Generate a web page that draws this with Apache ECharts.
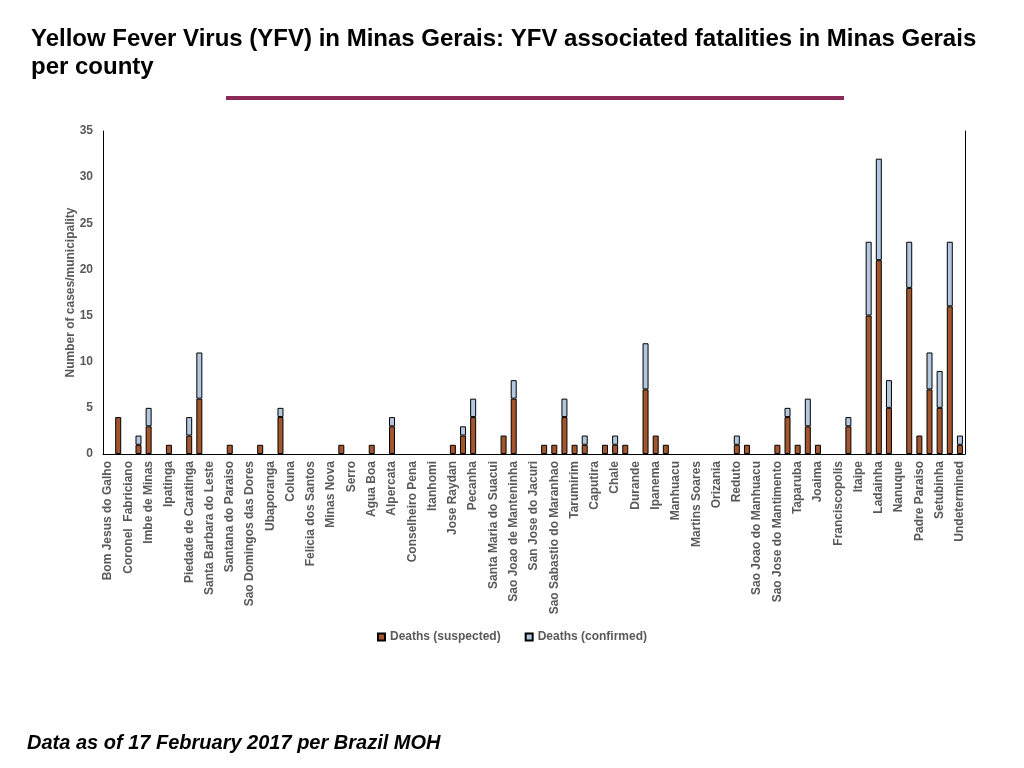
<!DOCTYPE html>
<html>
<head>
<meta charset="utf-8">
<title>YFV fatalities in Minas Gerais</title>
<script src="https://cdn.jsdelivr.net/npm/echarts@6/dist/echarts.min.js"></script>
<style>
  html, body { margin: 0; padding: 0; background: #fff; }
  #chart { width: 1024px; height: 768px; }
</style>
</head>
<body>
<div id="chart"></div>
<script>
// named municipalities (every second category carries a label in the source chart)
var labeledNames = ['Bom Jesus do Galho', 'Coronel  Fabriciano', 'Imbe de Minas', 'Ipatinga',
    'Piedade de Caratinga', 'Santa Barbara do Leste', 'Santana do Paraiso', 'Sao Domingos das Dores',
    'Ubaporanga', 'Coluna', 'Felicia dos Santos', 'Minas Nova', 'Serro', 'Agua Boa', 'Alpercata',
    'Conselheiro Pena', 'Itanhomi', 'Jose Raydan', 'Pecanha', 'Santa Maria do Suacui',
    'Sao Joao de Manteninha', 'San Jose do Jacuri', 'Sao Sabastio do Maranhao', 'Tarumirim',
    'Caputira', 'Chale', 'Durande', 'Ipanema', 'Manhuacu', 'Martins Soares', 'Orizania', 'Reduto',
    'Sao Joao do Manhuacu', 'Sao Jose do Mantimento', 'Taparuba', 'Joaima', 'Franciscopolis',
    'Itaipe', 'Ladainha', 'Nanuque', 'Padre Paraiso', 'Setubinha', 'Undetermined'];

var suspected = [
    0, 4, 0, 1, 3, 0, 1, 0, 2, 6,
    0, 0, 1, 0, 0, 1, 0, 4, 0, 0,
    0, 0, 0, 1, 0, 0, 1, 0, 3, 0,
    0, 0, 0, 0, 1, 2, 4, 0, 0, 2,
    6, 0, 0, 1, 1, 4, 1, 1, 0, 1,
    1, 1, 0, 7, 2, 1, 0, 0, 0, 0,
    0, 0, 1, 1, 0, 0, 1, 4, 1, 3,
    1, 0, 0, 3, 0, 15, 21, 5, 0, 18,
    2, 7, 5, 16, 1
];

var confirmed = [
    0, 0, 0, 1, 2, 0, 0, 0, 2, 5,
    0, 0, 0, 0, 0, 0, 0, 1, 0, 0,
    0, 0, 0, 0, 0, 0, 0, 0, 1, 0,
    0, 0, 0, 0, 0, 1, 2, 0, 0, 0,
    2, 0, 0, 0, 0, 2, 0, 1, 0, 0,
    1, 0, 0, 5, 0, 0, 0, 0, 0, 0,
    0, 0, 1, 0, 0, 0, 0, 1, 0, 3,
    0, 0, 0, 1, 0, 8, 11, 3, 0, 5,
    0, 4, 4, 7, 1
];

// interleave: labelled category, then an unlabelled one
var categories = [];
for (var i = 0; i < suspected.length; i++) {
    categories.push(i % 2 === 0 ? labeledNames[i / 2] : '');
}

function noZero(arr) {
    return arr.map(function (v) { return v === 0 ? null : v; });
}

var grey = '#595959';
var font = 'Liberation Sans, Arial, sans-serif';

var chart = echarts.init(document.getElementById('chart'));
var option = {
    animation: false,
    textStyle: { fontFamily: font },
    title: [
        {
            text: 'Yellow Fever Virus (YFV) in Minas Gerais: YFV associated fatalities in Minas Gerais\nper county',
            left: 31,
            top: 25,
            padding: 0,
            textStyle: {
                fontSize: 24,
                fontWeight: 'bold',
                color: '#000',
                lineHeight: 28,
                fontFamily: font
            }
        },
        {
            text: 'Data as of 17 February 2017 per Brazil MOH',
            left: 27,
            top: 731,
            padding: 0,
            textStyle: {
                fontSize: 20,
                fontWeight: 'bold',
                fontStyle: 'italic',
                color: '#000',
                lineHeight: 24,
                fontFamily: font
            }
        }
    ],
    graphic: [
        {
            type: 'rect',
            shape: { x: 226, y: 96, width: 618, height: 4 },
            style: { fill: '#8C2A57' }
        }
    ],
    legend: {
        data: ['Deaths (suspected)', 'Deaths (confirmed)'],
        left: 'center',
        top: 626,
        icon: 'rect',
        itemWidth: 7,
        itemHeight: 7,
        itemGap: 24,
        textStyle: { color: grey, fontSize: 12, fontWeight: 'bold', fontFamily: font }
    },
    grid: {
        left: 103,
        right: 59,
        top: 131,
        bottom: 314
    },
    xAxis: [
        {
            type: 'category',
            data: categories,
            axisTick: { show: false },
            axisLine: { lineStyle: { color: '#d9d9d9', width: 1 } },
            axisLabel: {
                interval: 0,
                rotate: 90,
                margin: 7,
                color: grey,
                fontSize: 12,
                fontWeight: 'bold',
                fontFamily: font
            }
        },
        {
            type: 'category',
            position: 'top',
            data: categories,
            axisTick: { show: false },
            axisLabel: { show: false },
            axisLine: { lineStyle: { color: '#000', width: 1 } }
        }
    ],
    yAxis: [
        {
            type: 'value',
            min: 0,
            max: 35,
            interval: 5,
            name: 'Number of cases/municipality',
            nameLocation: 'middle',
            nameGap: 26,
            nameMoveOverlap: false,
            nameTextStyle: { color: grey, fontSize: 12, fontWeight: 'bold', fontFamily: font },
            splitLine: { show: false },
            axisTick: { show: false },
            axisLine: { show: true, lineStyle: { color: '#000', width: 1 } },
            axisLabel: { color: grey, fontSize: 12, fontWeight: 'bold', margin: 10, fontFamily: font }
        },
        {
            type: 'value',
            min: 0,
            max: 35,
            interval: 5,
            position: 'right',
            splitLine: { show: false },
            axisTick: { show: false },
            axisLabel: { show: false },
            axisLine: { show: true, lineStyle: { color: '#000', width: 1 } }
        }
    ],
    series: [
        {
            name: 'Deaths (suspected)',
            type: 'bar',
            stack: 'deaths',
            barWidth: 6,
            itemStyle: { color: '#A3552D', borderColor: '#000', borderWidth: 1 },
            data: noZero(suspected)
        },
        {
            name: 'Deaths (confirmed)',
            type: 'bar',
            stack: 'deaths',
            barWidth: 6,
            itemStyle: { color: '#B3C7E0', borderColor: '#000', borderWidth: 1 },
            data: noZero(confirmed)
        }
    ]
};
chart.setOption(option);
</script>
</body>
</html>
